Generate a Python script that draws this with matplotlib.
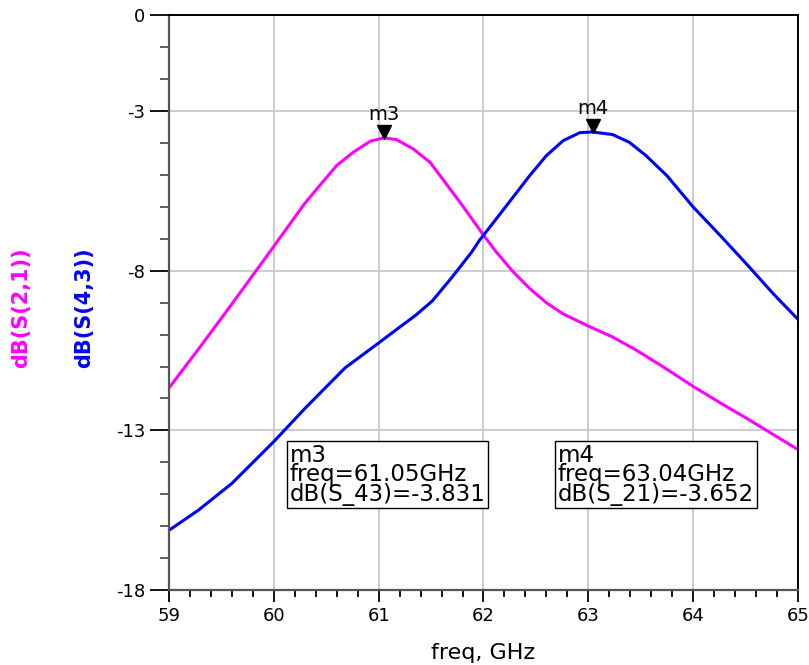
import matplotlib.pyplot as plt
from matplotlib.transforms import offset_copy
from matplotlib.ticker import MultipleLocator

plt.rcParams["axes.unicode_minus"] = False

# values
freq_s21 = [59.0, 59.28, 59.6, 59.97, 60.13, 60.29, 60.45, 60.6, 60.76, 60.92,
            61.05, 61.17, 61.33, 61.49, 61.61, 61.8, 62.0, 62.12, 62.28, 62.44,
            62.6, 62.76, 63.0, 63.23, 63.45, 63.7, 64.0, 64.25, 64.51, 64.75, 65.0]
db_s21 = [-11.67, -10.46, -9.04, -7.37, -6.64, -5.91, -5.28, -4.7, -4.28, -3.94,
          -3.83, -3.89, -4.18, -4.6, -5.12, -5.96, -6.88, -7.4, -8.02, -8.55,
          -9.0, -9.35, -9.73, -10.07, -10.47, -10.98, -11.62, -12.12, -12.62,
          -13.1, -13.6]

freq_s43 = [59.0, 59.28, 59.6, 60.0, 60.3, 60.68, 61.0, 61.19, 61.35, 61.51, 61.7,
            61.89, 61.96, 62.12, 62.28, 62.44, 62.6, 62.76, 62.92, 63.04, 63.23,
            63.39, 63.55, 63.75, 64.0, 64.26, 64.51, 64.77, 65.0]
db_s43 = [-16.13, -15.5, -14.66, -13.35, -12.3, -11.04, -10.26, -9.79, -9.4, -8.95,
          -8.2, -7.4, -7.05, -6.38, -5.7, -5.02, -4.39, -3.92, -3.67, -3.65, -3.73,
          -3.97, -4.39, -5.02, -6.0, -6.9, -7.79, -8.74, -9.52]

markers = ["m3", "m4"]
marker_freq = [61.05, 63.04]
marker_db = [-3.831, -3.652]
marker_text = ["m3\nfreq=61.05GHz\ndB(S_43)=-3.831",
               "m4\nfreq=63.04GHz\ndB(S_21)=-3.652"]
box_pos = [(60.15, -13.42), (62.71, -13.42)]

y_ticks = [0, -3, -8, -13, -18]

fig = plt.figure(figsize=(8.09, 6.65), dpi=100)
ax = fig.add_axes([0.2089, 0.1128, 0.7775, 0.8639])

ax.plot(freq_s21, db_s21, color="#ff00ff", lw=2.2)
ax.plot(freq_s43, db_s43, color="#0000ff", lw=2.2)

ax.set_xlim(59, 65)
ax.set_ylim(-18, 0)
ax.set_yticks(y_ticks)
ax.set_xticks(range(59, 66))
ax.xaxis.set_minor_locator(MultipleLocator(0.2))
ax.yaxis.set_minor_locator(MultipleLocator(1))
ax.grid(True, which="major", color="#c4c4c4", lw=1.2)
ax.set_axisbelow(True)

ax.tick_params(axis="y", which="major", length=14, width=1.3, labelsize=13, pad=3)
ax.tick_params(axis="y", which="minor", length=6.5, width=1.3, color="#555555")
ax.tick_params(axis="x", which="major", length=8.5, width=1.3, labelsize=13, pad=4)
ax.tick_params(axis="x", which="minor", length=5, width=1.3)

for side in ["left", "bottom"]:
    ax.spines[side].set_color("#555555")
    ax.spines[side].set_linewidth(1.6)
for side in ["top", "right"]:
    ax.spines[side].set_color("black")
    ax.spines[side].set_linewidth(1.4)

ax.set_xlabel("freq, GHz", fontsize=16, labelpad=13)

fig.text(21 / 809, 1 - 308 / 665, "dB(S(2,1))", rotation=90, color="#ff00ff",
         fontsize=15, fontweight="bold", ha="center", va="center")
fig.text(84 / 809, 1 - 308 / 665, "dB(S(4,3))", rotation=90, color="#0000ff",
         fontsize=15, fontweight="bold", ha="center", va="center")

# marker triangles sit with their tip on the curve
tri = offset_copy(ax.transData, fig=fig, y=6, units="dots")
lab = offset_copy(ax.transData, fig=fig, y=14, units="dots")
for name, f, v in zip(markers, marker_freq, marker_db):
    ax.plot(f, v, marker="v", color="black", markersize=10.5, transform=tri,
            clip_on=False)
    ax.text(f, v, name, transform=lab, ha="center", va="bottom", fontsize=14)

for (bx, by), txt in zip(box_pos, marker_text):
    ax.text(bx, by, txt, ha="left", va="top", fontsize=16.5, linespacing=0.8,
            bbox=dict(boxstyle="square,pad=0.12", fc="white", ec="black", lw=1))

fig.savefig("out.png", dpi=100)
